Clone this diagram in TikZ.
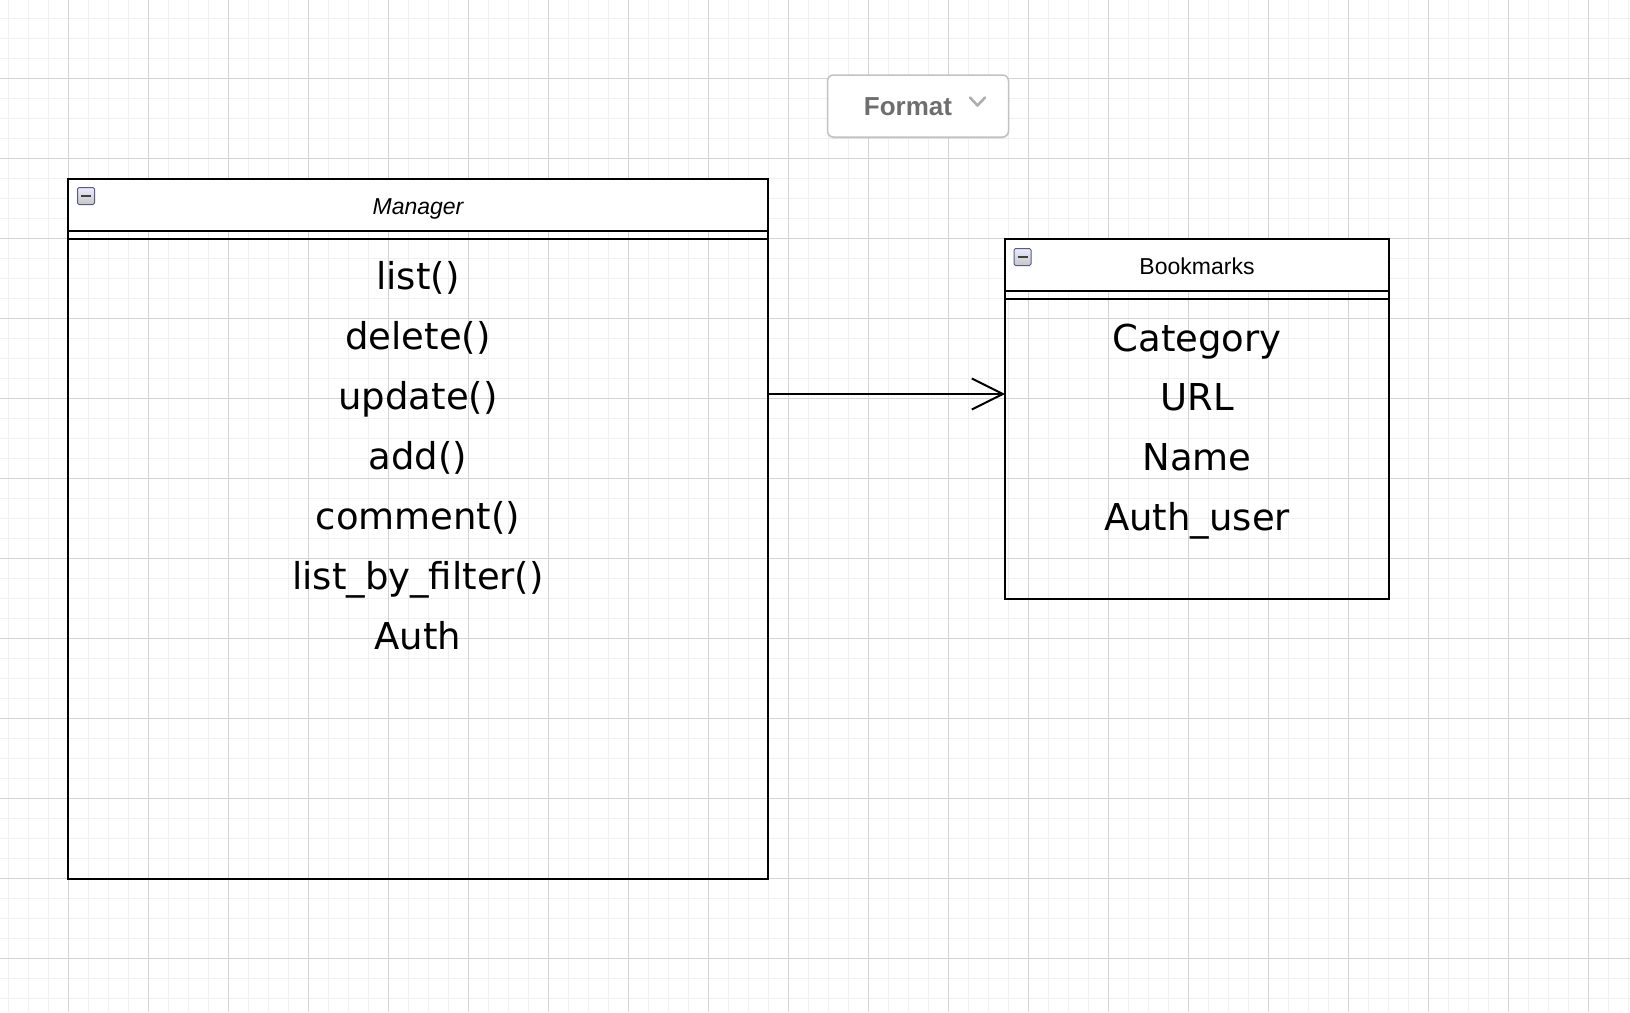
\documentclass[tikz,border=0pt]{standalone}
\usepackage{fontspec}
\setmainfont{Liberation Sans}
\newfontfamily\handfont{DejaVu Sans}
\usetikzlibrary{arrows.meta,shadows}

\begin{document}
\begin{tikzpicture}[x=1pt,y=-1pt,
  minorgrid/.style={draw=black!6, line width=1pt},
  majorgrid/.style={draw=black!17, line width=1pt},
  classbox/.style={draw=black, line width=2pt, inner sep=0pt, outer sep=0pt, anchor=north west},
  headbox/.style={classbox, fill=white},
  sepline/.style={draw=black, line width=2pt},
  headtext/.style={font=\fontsize{23}{27}\selectfont, text=black},
  member/.style={font=\handfont\fontsize{37}{44}\selectfont, anchor=base, inner sep=0pt},
  collapsebtn/.style={draw=black!45!blue!30!gray, line width=1pt, top color=white!92!blue, bottom color=black!22,
    minimum size=17pt, inner sep=0pt, outer sep=0pt, anchor=north west, rounded corners=1.5pt,
    path picture={\draw[line width=2.2pt, black!75]
      ([xshift=-5pt]path picture bounding box.center) -- ([xshift=5pt]path picture bounding box.center);}},
  fmtbtn/.style={draw=black!24, line width=1.5pt, fill=white, rounded corners=6pt, inner sep=0pt, outer sep=0pt,
    anchor=north west, minimum width=181pt, minimum height=62pt,
    drop shadow={opacity=0.12, shadow xshift=0pt, shadow yshift=-2pt}},
  fmttext/.style={font=\bfseries\fontsize{26}{30}\selectfont, text=black!57},
  chevron/.style={draw=black!32, line width=2.6pt, line cap=round, line join=round},
  conn/.style={draw=black, line width=2pt, -{Straight Barb[length=31pt, width=31pt, line width=2pt]}}
]
% page
\useasboundingbox (0,0) rectangle (1630,1012);
\fill[white] (0,0) rectangle (1630,1012);

% background grid
\foreach \i in {0,...,81} \draw[minorgrid] ({8.3+20*\i},0) -- ({8.3+20*\i},1012);
\foreach \i in {0,...,49} \draw[minorgrid] (0,{18.3+20*\i}) -- (1630,{18.3+20*\i});
\foreach \i in {0,...,19} \draw[majorgrid] ({68.3+80*\i},0) -- ({68.3+80*\i},1012);
\foreach \i in {0,...,11} \draw[majorgrid] (0,{78.3+80*\i}) -- (1630,{78.3+80*\i});

% Format button
\node[fmtbtn] (format) at (827.5,75) {};
\node[fmttext] (fmtlabel) at (908,107) {Format};
\draw[chevron] (970,97.5) -- (977.5,105.5) -- (985,97.5);

% Manager class
\node[classbox, minimum width=700pt, minimum height=700pt] (manager) at (68.3,178.5) {};
\node[headbox, minimum width=700pt, minimum height=52pt] (managerhead) at (manager.north west) {};
\draw[sepline] (manager.west |- 0,238.5) -- (manager.east |- 0,238.5);
\node[collapsebtn] (mcollapse) at (77.5,187.5) {};
\node[headtext, font=\itshape\fontsize{23}{27}\selectfont] (mtitle) at (418,209) {Manager};

\node[member] (lst) at (418,289) {list()};
\node[member] (del) at (418,349) {delete()};
\node[member] (upd) at (418,409) {update()};
\node[member] (addm) at (418,469) {add()};
\node[member] (cmt) at (418,529) {comment()};
\node[member] (lbf) at (418,589) {list\_by\_filter()};
\node[member] (auth) at (418,649) {Auth};

% Bookmarks class
\node[classbox, minimum width=384pt, minimum height=360pt] (bookmarks) at (1005,239) {};
\node[headbox, minimum width=384pt, minimum height=52pt] (bookmarkshead) at (bookmarks.north west) {};
\draw[sepline] (bookmarks.west |- 0,298.5) -- (bookmarks.east |- 0,298.5);
\node[collapsebtn] (bcollapse) at (1014,248.5) {};
\node[headtext] (btitle) at (1197,266) {Bookmarks};

\node[member] (cat) at (1197,351) {Category};
\node[member] (url) at (1197,410) {URL};
\node[member] (nam) at (1197,470) {Name};
\node[member] (au) at (1197,530) {Auth\_user};

% association
\coordinate (link) at (0,394);
\draw[conn] (manager.east |- link) -- (bookmarks.west |- link);
\end{tikzpicture}
\end{document}
